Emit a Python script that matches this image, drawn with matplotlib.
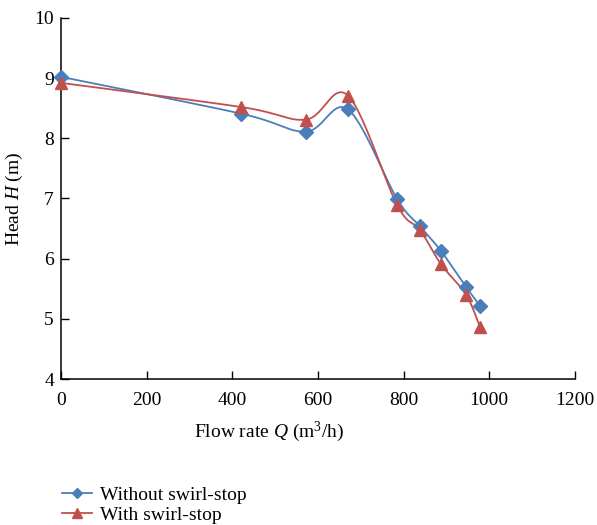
import numpy as np
import matplotlib
matplotlib.use("Agg")
import matplotlib.pyplot as plt

plt.rcParams['font.family'] = ['Liberation Serif', 'DejaVu Serif']
plt.rcParams['mathtext.fontset'] = 'custom'
plt.rcParams['mathtext.rm'] = 'Liberation Serif'
plt.rcParams['mathtext.it'] = 'Liberation Serif:italic'

flow = [0, 420, 572, 670, 785, 838, 887, 946, 978]
head_without = [9.02, 8.41, 8.11, 8.48, 6.99, 6.54, 6.13, 5.53, 5.22]
head_with = [8.92, 8.52, 8.31, 8.71, 6.89, 6.48, 5.91, 5.40, 4.87]

xticks = [0, 200, 400, 600, 800, 1000, 1200]
yticks = [4, 5, 6, 7, 8, 9, 10]

BLUE = '#4a7ebb'
RED = '#c0504d'

fig = plt.figure(figsize=(5.97, 5.25), dpi=100)
ax = fig.add_axes([0.102, 0.278, 0.861, 0.688])
ax.set_xlim(0, 1200)
ax.set_ylim(4, 10)


def smooth(x, y, xr=1200.0, yr=6.0, n=30):
    # Excel-style Bezier smoothing in normalized coordinates
    P = np.column_stack([np.asarray(x) / xr, np.asarray(y) / yr])
    out = [P[0]]
    m = len(P)
    for i in range(m - 1):
        p0 = P[i - 1] if i > 0 else P[i]
        p1, p2 = P[i], P[i + 1]
        p3 = P[i + 2] if i + 2 < m else P[i + 1]
        c1 = p1 + (p2 - p0) / 6.0
        c2 = p2 - (p3 - p1) / 6.0
        t = np.linspace(0, 1, n)[1:, None]
        seg = ((1 - t) ** 3) * p1 + 3 * ((1 - t) ** 2) * t * c1 + 3 * (1 - t) * t ** 2 * c2 + t ** 3 * p2
        out.extend(seg)
    out = np.array(out)
    return out[:, 0] * xr, out[:, 1] * yr


sx, sy = smooth(flow, head_without)
ax.plot(sx, sy, color=BLUE, lw=1.3, zorder=3)
sx, sy = smooth(flow, head_with)
ax.plot(sx, sy, color=RED, lw=1.3, zorder=3)
ax.plot(flow, head_without, linestyle='none', marker='D', ms=7.2, color=BLUE, zorder=4, clip_on=False)
ax.plot(flow, head_with, linestyle='none', marker='^', ms=8.5, color=RED, zorder=4, clip_on=False)

ax.set_xticks(xticks)
ax.set_yticks(yticks)
ax.tick_params(direction='in', length=6, width=1, labelsize=14, colors='black')
ax.tick_params(axis='x', pad=9)
ax.tick_params(axis='y', pad=5)
for s in ['top', 'right']:
    ax.spines[s].set_visible(False)
for s in ['left', 'bottom']:
    ax.spines[s].set_linewidth(1.1)

ax.set_xlabel('Flow rate $\\mathit{Q}$ (m$^3$/h)', fontsize=14)
ax.xaxis.set_label_coords(0.405, -0.112)
ax.set_ylabel('Head $\\mathit{H}$ (m)', fontsize=14, labelpad=7)

h1, = ax.plot([], [], color=BLUE, lw=1.3, marker='D', ms=5)
h2, = ax.plot([], [], color=RED, lw=1.3, marker='^', ms=6.5)
fig.legend([h1, h2], ['Without swirl-stop', 'With swirl-stop'],
           loc='lower left', bbox_to_anchor=(0.09, -0.012), frameon=False,
           fontsize=14, handlelength=1.55, handletextpad=0.45, labelspacing=0.12,
           borderaxespad=0)

fig.savefig('out.png', dpi=100)
